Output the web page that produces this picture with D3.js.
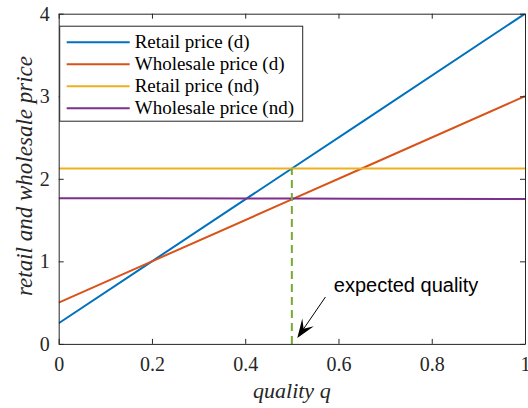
<!DOCTYPE html>
<html>
<head>
<meta charset="utf-8">
<script src="https://cdn.jsdelivr.net/npm/d3@7"></script>
<style>
  html, body { margin: 0; padding: 0; background: #fff; }
  svg { display: block; }
</style>
</head>
<body>
<div id="chart"></div>
<script>
// quality values and the four price series
const quality = [0, 0.2, 0.5, 0.65, 1];
const retailD = [0.25, 1.0, 2.125, 2.6875, 4.0];
const wholesaleD = [0.5, 1.0, 1.75, 2.125, 3.0];
const retailND = [2.125, 2.125, 2.125, 2.125, 2.125];
const wholesaleND = [1.765, 1.763, 1.76, 1.758, 1.755];

const seriesNames = ["Retail price (d)", "Wholesale price (d)", "Retail price (nd)", "Wholesale price (nd)"];
const seriesColors = ["#0072BD", "#D95319", "#EDB120", "#7E2F8E"];

const xTicks = [0, 0.2, 0.4, 0.6, 0.8, 1];
const yTicks = [0, 1, 2, 3, 4];

const expectedQ = 0.5;

const W = 528, H = 408;
let margin = {top: 13.7, right: 3, bottom: 64.1, left: 58.7};
let width = W - margin.left - margin.right,
    height = H - margin.top - margin.bottom;

const axisColor = "#262626";
const serif = "'Liberation Serif', 'Times New Roman', Times, serif";
const sans = "'Liberation Sans', Arial, Helvetica, sans-serif";

let svg = d3.select("#chart").append("svg")
    .attr("width", W)
    .attr("height", H);

// axis labels first, so tick labels sit on top of them
svg.append("text")
    .attr("x", margin.left + (W - margin.left - margin.right) / 2)
    .attr("y", 398)
    .attr("text-anchor", "middle")
    .attr("fill", axisColor)
    .style("font-family", serif)
    .style("font-style", "italic")
    .style("font-size", "22px")
    .text("quality q");

svg.append("text")
    .attr("transform", "translate(32," + 176 + ") rotate(-90)")
    .attr("text-anchor", "middle")
    .attr("fill", axisColor)
    .style("font-family", serif)
    .style("font-style", "italic")
    .style("font-size", "23px")
    .text("retail and wholesale price");

let g = svg.append("g")
    .attr("transform", "translate(" + margin.left + "," + margin.top + ")");

let x = d3.scaleLinear().domain([0, 1]).range([0, width]);
let y = d3.scaleLinear().domain([0, 4]).range([height, 0]);

g.append("clipPath").attr("id", "plotClip")
    .append("rect").attr("width", width).attr("height", height);

// data lines
const series = [retailD, wholesaleD, retailND, wholesaleND];
let line = d3.line()
    .x((d, i) => x(quality[i]))
    .y(d => y(d));

let lines = g.append("g").attr("clip-path", "url(#plotClip)");

series.forEach(function (s, k) {
    lines.append("path")
        .datum(s)
        .attr("d", line)
        .attr("fill", "none")
        .attr("stroke", seriesColors[k])
        .attr("stroke-width", 2);
});

// dashed marker at the expected quality, up to the retail price there
let retailAtExpected = retailD[quality.indexOf(expectedQ)];
lines.append("line")
    .attr("x1", x(expectedQ)).attr("x2", x(expectedQ))
    .attr("y1", y(0)).attr("y2", y(retailAtExpected))
    .attr("stroke", "#77AC30")
    .attr("stroke-width", 2)
    .attr("stroke-dasharray", "8,5");

// axes (box with inward ticks)
function styleAxis(sel) {
    sel.attr("font-family", null).attr("font-size", null);
    sel.select(".domain").attr("stroke", axisColor).attr("stroke-width", 1);
    sel.selectAll(".tick line").attr("stroke", axisColor).attr("stroke-width", 1);
    sel.selectAll(".tick text")
        .attr("fill", axisColor)
        .style("font-family", serif)
        .style("font-size", "20px");
}

g.append("g")
    .attr("transform", "translate(0," + height + ")")
    .call(d3.axisBottom(x).tickValues(xTicks).tickSizeInner(-5).tickSizeOuter(0).tickPadding(13).tickFormat(d => String(d)))
    .call(styleAxis);

g.append("g")
    .call(d3.axisTop(x).tickValues(xTicks).tickSizeInner(-5).tickSizeOuter(0).tickFormat(""))
    .call(styleAxis);

g.append("g")
    .call(d3.axisLeft(y).tickValues(yTicks).tickSizeInner(-5).tickSizeOuter(0).tickPadding(9).tickFormat(d3.format("d")))
    .call(styleAxis);

g.append("g")
    .attr("transform", "translate(" + width + ",0)")
    .call(d3.axisRight(y).tickValues(yTicks).tickSizeInner(-5).tickSizeOuter(0).tickFormat(""))
    .call(styleAxis);

// legend
let legend = g.append("g").attr("transform", "translate(1,12.5)");
legend.append("rect")
    .attr("width", 243)
    .attr("height", 95)
    .attr("fill", "#fff")
    .attr("stroke", axisColor)
    .attr("stroke-width", 1);

seriesNames.forEach(function (name, k) {
    let row = legend.append("g").attr("transform", "translate(0," + (16 + k * 22) + ")");
    row.append("line")
        .attr("x1", 7).attr("x2", 70)
        .attr("stroke", seriesColors[k])
        .attr("stroke-width", 2);
    row.append("text")
        .attr("x", 75)
        .attr("dy", "0.33em")
        .attr("fill", "#000")
        .style("font-family", serif)
        .style("font-size", "19px")
        .text(name);
});

// annotation: arrow pointing at the expected quality
const tail = {q: 0.572, p: 0.568}, tip = {q: 0.5117, p: 0.071};
let tx = x(tip.q), ty = y(tip.p), sx = x(tail.q), sy = y(tail.p);
let ang = Math.atan2(ty - sy, tx - sx);
let L = 16, hw = 7;
let ux = Math.cos(ang), uy = Math.sin(ang);
let bx = tx - ux * L, by = ty - uy * L;

g.append("line")
    .attr("x1", sx).attr("y1", sy)
    .attr("x2", tx - ux * 10).attr("y2", ty - uy * 10)
    .attr("stroke", "#000")
    .attr("stroke-width", 1);

g.append("path")
    .attr("d", "M" + tx + "," + ty +
        "L" + (bx - uy * hw - ux * 3) + "," + (by + ux * hw - uy * 3) +
        "L" + (tx - ux * L * 0.7) + "," + (ty - uy * L * 0.7) +
        "L" + (bx + uy * hw - ux * 3) + "," + (by - ux * hw - uy * 3) + "Z")
    .attr("fill", "#000");

g.append("text")
    .attr("x", x(0.59))
    .attr("y", y(0.63))
    .attr("fill", "#000")
    .style("font-family", sans)
    .style("font-size", "20px")
    .text("expected quality");
</script>
</body>
</html>
